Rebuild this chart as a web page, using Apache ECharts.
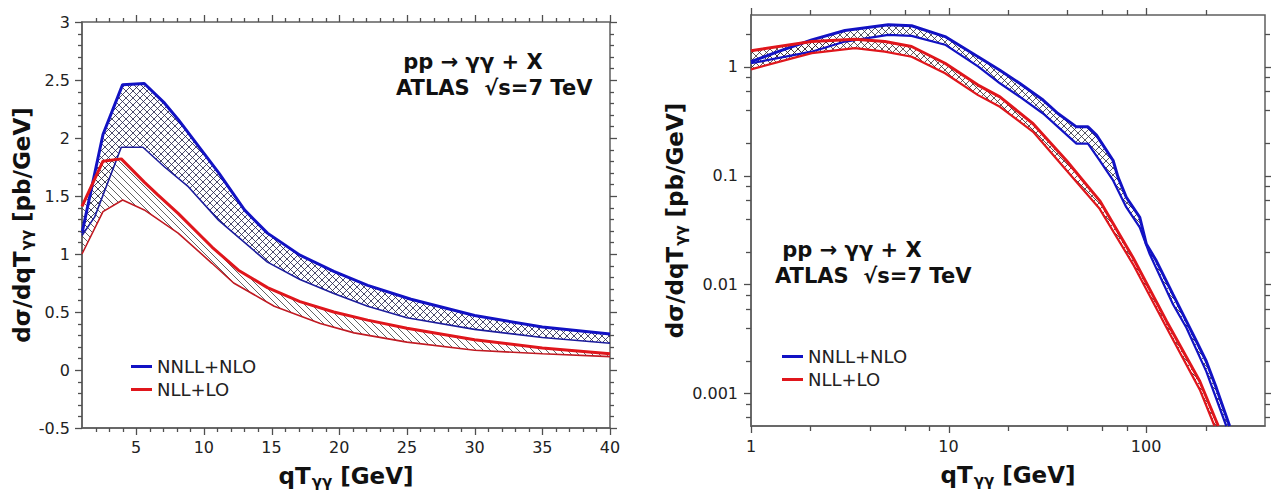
<!DOCTYPE html>
<html>
<head>
<meta charset="utf-8">
<script src="https://cdn.jsdelivr.net/npm/echarts@6/dist/echarts.min.js"></script>
<style>
html,body{margin:0;padding:0;background:#fff;}
#chart{width:1271px;height:496px;}
</style>
</head>
<body>
<div id="chart"></div>
<script>
// ---------- Left panel (linear) ----------
const linNnloUpX = [1, 2.55, 4, 5.6, 7.1, 8.1, 11.1, 13, 14.7, 17.1, 19.6, 22.1, 25.3, 30, 35, 40];
const linNnloUpY = [1.18, 2.03, 2.46, 2.47, 2.30, 2.16, 1.70, 1.38, 1.18, 0.99, 0.85, 0.73, 0.61, 0.47, 0.37, 0.31];
const linNnloLoX = [1, 1.94, 3.9, 5.5, 7.1, 8.85, 11.1, 13, 14.7, 17.1, 19.6, 22.1, 25, 30, 35, 40];
const linNnloLoY = [1.16, 1.32, 1.92, 1.92, 1.75, 1.58, 1.29, 1.10, 0.93, 0.78, 0.66, 0.55, 0.45, 0.35, 0.28, 0.23];
const linNllUpX = [1, 2.55, 3.9, 5.6, 6.6, 8.1, 10.6, 12.55, 14.7, 17.1, 19.6, 22.1, 25, 30, 35, 40];
const linNllUpY = [1.41, 1.80, 1.82, 1.62, 1.51, 1.35, 1.06, 0.86, 0.71, 0.59, 0.50, 0.43, 0.36, 0.26, 0.19, 0.14];
const linNllLoX = [1, 2.55, 4, 5.6, 8.1, 10.6, 12.2, 15.2, 18.6, 21.1, 25, 30, 35, 40];
const linNllLoY = [1.0, 1.365, 1.465, 1.38, 1.18, 0.92, 0.75, 0.55, 0.40, 0.32, 0.24, 0.17, 0.14, 0.115];
const linXMajor = [5, 10, 15, 20, 25, 30, 35, 40];
const linXMinor = [2, 3, 4, 6, 7, 8, 9, 11, 12, 13, 14, 16, 17, 18, 19, 21, 22, 23, 24, 26, 27, 28, 29, 31, 32, 33, 34, 36, 37, 38, 39];
const linYMajor = [-0.5, 0, 0.5, 1, 1.5, 2, 2.5, 3];
const linYMinor = [-0.4, -0.3, -0.2, -0.1, 0.1, 0.2, 0.3, 0.4, 0.6, 0.7, 0.8, 0.9, 1.1, 1.2, 1.3, 1.4, 1.6, 1.7, 1.8, 1.9, 2.1, 2.2, 2.3, 2.4, 2.6, 2.7, 2.8, 2.9];

// ---------- Right panel (log-log) ----------
const logNnloUpX = [1, 1.37, 2.03, 2.99, 4.95, 6.5, 9.6, 14.1, 18.2, 22.9, 30.1, 35.8, 44.4, 50.8, 56.1, 68.1, 72.1, 79.4, 92.9, 100.3, 112.7, 136.8, 160, 179.6, 201.7, 226.8, 264.8];
const logNnloUpY = [1.12, 1.38, 1.77, 2.16, 2.44, 2.39, 1.90, 1.24, 0.93, 0.707, 0.496, 0.373, 0.281, 0.281, 0.236, 0.138, 0.097, 0.0634, 0.0415, 0.0235, 0.0165, 0.0081, 0.00461, 0.00302, 0.00197, 0.00112, 0.0005];
const logNnloLoX = [1, 2.03, 2.99, 4.95, 6.5, 9.6, 14.1, 18.2, 22.9, 30.1, 35.8, 44.4, 50.8, 58.2, 68.1, 79.4, 92.9, 104.3, 136.8, 160, 201.7, 254.7];
const logNnloLoY = [1.08, 1.38, 1.71, 1.97, 1.93, 1.60, 1.01, 0.707, 0.532, 0.373, 0.281, 0.197, 0.197, 0.138, 0.0905, 0.0513, 0.0335, 0.019, 0.00658, 0.004, 0.00159, 0.0005];
const logNllUpX = [1, 2.03, 3.36, 4.76, 6.5, 9.6, 14.1, 18.2, 26.8, 39.5, 58.2, 85.8, 127, 187, 232];
const logNllUpY = [1.41, 1.71, 1.80, 1.71, 1.54, 1.08, 0.68, 0.53, 0.30, 0.138, 0.059, 0.0177, 0.0046, 0.00129, 0.0005];
const logNllLoX = [1, 2.03, 3.36, 4.76, 6.5, 9.6, 14.1, 18.2, 26.8, 39.5, 58.2, 85.8, 127, 187, 222];
const logNllLoY = [0.95, 1.34, 1.49, 1.38, 1.24, 0.875, 0.55, 0.43, 0.253, 0.112, 0.0496, 0.0154, 0.004, 0.00108, 0.0005];
const logXMajor = [1, 10, 100];
const logXMinor = [2, 4, 6, 8, 20, 40, 60, 80, 200];
const logYMajor = [0.001, 0.01, 0.1, 1];
const logYMinor = [0.0006, 0.0008, 0.002, 0.004, 0.006, 0.008, 0.02, 0.04, 0.06, 0.08, 0.2, 0.4, 0.6, 0.8, 2];

const seriesNames = ['NNLL+NLO', 'NLL+LO'];
const yTitle = '{a|dσ/dqT}{b|γγ}{a| [pb/GeV]}';
const xTitle = '{a|qT}{b|γγ}{a| [GeV]}';
const annotation = ' pp → γγ + X\nATLAS  √s=7 TeV';

// ---------- styling ----------
const FONT = 'DejaVu Sans';
const BLUE = '#1212c4';
const BLUE_THIN = '#1c1c9c';
const RED = '#e0161c';
const RED_THIN = '#c01a22';
const AX = '#5f5f5f';
const TICK = '#4f4f4f';

const pairs = (xs, ys) => xs.map((x, i) => [x, ys[i]]);

const titleRich = {
  a: {fontSize: 23, fontWeight: 'bold', fontFamily: FONT, color: '#111'},
  b: {fontSize: 15, fontWeight: 'bold', fontFamily: FONT, color: '#111', padding: [11, 0, 0, 1]}
};

function hatchBand(ux, uy, lx, ly, opt) {
  return function (params, api) {
    const pts = [];
    for (let i = 0; i < ux.length; i++) pts.push(api.coord([ux[i], uy[i]]));
    for (let i = lx.length - 1; i >= 0; i--) pts.push(api.coord([lx[i], ly[i]]));
    let x0 = Infinity, x1 = -Infinity, y0 = Infinity, y1 = -Infinity;
    pts.forEach(p => { x0 = Math.min(x0, p[0]); x1 = Math.max(x1, p[0]); y0 = Math.min(y0, p[1]); y1 = Math.max(y1, p[1]); });
    const sp = opt.spacing;
    const st = {stroke: opt.color, lineWidth: opt.lw};
    const children = [];
    let cStart = Math.floor((y0 - x1) / sp) * sp;
    for (let c = cStart; c <= y1 - x0 + sp; c += sp) {
      children.push({type: 'line', shape: {x1: x0, y1: x0 + c, x2: x1, y2: x1 + c}, style: st});
    }
    if (opt.cross) {
      cStart = Math.floor((y0 + x0) / sp) * sp;
      for (let c = cStart; c <= y1 + x1 + sp; c += sp) {
        children.push({type: 'line', shape: {x1: x0, y1: c - x0, x2: x1, y2: c - x1}, style: st});
      }
    }
    return {type: 'group', clipPath: {type: 'polygon', shape: {points: pts}}, children: children};
  };
}

function bandSeries(xi, yi, ux, uy, lx, ly, opt) {
  return {
    type: 'custom', xAxisIndex: xi, yAxisIndex: yi, clip: true, silent: true,
    data: [[ux[0], uy[0]]],
    renderItem: hatchBand(ux, uy, lx, ly, opt), z: 1
  };
}
function lineSeries(name, xi, yi, xs, ys, color, width) {
  return {
    name: name, type: 'line', xAxisIndex: xi, yAxisIndex: yi, color: color,
    showSymbol: false, symbol: 'none', clip: true, z: 3,
    lineStyle: {color: color, width: width},
    data: pairs(xs, ys)
  };
}
// outward tick marks on one side of a grid, placed through the axis scales
function tickSeries(xi, yi, side, values, len, ref) {
  const horiz = side === 'b' || side === 't';
  return {
    type: 'custom', xAxisIndex: xi, yAxisIndex: yi, clip: false, silent: true, zlevel: 1, z: 50,
    data: values.map(v => horiz ? [v, ref] : [ref, v]),
    renderItem: function (params, api) {
      const cs = params.coordSys;
      const p = api.coord([api.value(0), api.value(1)]);
      const st = {stroke: TICK, lineWidth: 1.3};
      if (horiz) {
        const x = Math.round(p[0]) + 0.5;
        const y = side === 'b' ? cs.y + cs.height : cs.y;
        const d = side === 'b' ? len : -len;
        return {type: 'line', shape: {x1: x, y1: y, x2: x, y2: y + d}, style: st};
      }
      const y = Math.round(p[1]) + 0.5;
      const x = side === 'l' ? cs.x : cs.x + cs.width;
      const d = side === 'l' ? -len : len;
      return {type: 'line', shape: {x1: x, y1: y, x2: x + d, y2: y}, style: st};
    }
  };
}
function allTicks(xi, yi, xMaj, xMin, yMaj, yMin, majLen, minLen, xRef, yRef) {
  const out = [];
  ['b', 't'].forEach(s => {
    out.push(tickSeries(xi, yi, s, xMaj, majLen, xRef));
    out.push(tickSeries(xi, yi, s, xMin, minLen, xRef));
  });
  ['l', 'r'].forEach(s => {
    out.push(tickSeries(xi, yi, s, yMaj, majLen, yRef));
    out.push(tickSeries(xi, yi, s, yMin, minLen, yRef));
  });
  return out;
}

const labelStyle = {fontSize: 16, fontFamily: FONT, color: '#222'};
const axisLine = {show: true, onZero: false, lineStyle: {color: AX, width: 1.5}};
const fmt = v => String(+(+v).toPrecision(3));

const xAxes = [
  {
    type: 'value', gridIndex: 0, min: 1, max: 40, position: 'bottom',
    axisLine: axisLine, axisTick: {show: false}, splitLine: {show: false},
    axisLabel: Object.assign({show: true, margin: 11, customValues: linXMajor}, labelStyle),
    name: xTitle, nameLocation: 'middle', nameGap: 35, nameTextStyle: {rich: titleRich}
  },
  {
    type: 'log', logBase: 10, gridIndex: 1, min: 1, max: 400, position: 'bottom',
    axisLine: axisLine, axisTick: {show: false}, splitLine: {show: false}, minorTick: {show: false},
    axisLabel: Object.assign({show: true, margin: 12, customValues: logXMajor, formatter: fmt}, labelStyle),
    name: xTitle, nameLocation: 'middle', nameGap: 36, nameTextStyle: {rich: titleRich}
  }
];
const yAxes = [
  {
    type: 'value', gridIndex: 0, min: -0.5, max: 3, interval: 0.5, position: 'left',
    axisLine: axisLine, axisTick: {show: false}, splitLine: {show: false},
    axisLabel: Object.assign({show: true, margin: 12}, labelStyle),
    name: yTitle, nameLocation: 'middle', nameGap: 45, nameTextStyle: {rich: titleRich}
  },
  {
    type: 'log', logBase: 10, gridIndex: 1, min: 0.0005, max: 3, position: 'left',
    axisLine: axisLine, axisTick: {show: false}, splitLine: {show: false}, minorTick: {show: false},
    axisLabel: Object.assign({show: true, margin: 13, customValues: logYMajor, formatter: fmt}, labelStyle),
    name: yTitle, nameLocation: 'middle', nameGap: 58, nameTextStyle: {rich: titleRich}
  }
];

const series = [
  bandSeries(0, 0, linNnloUpX, linNnloUpY, linNnloLoX, linNnloLoY, {spacing: 7, color: '#1e1e46', lw: 0.8, cross: true}),
  bandSeries(0, 0, linNllUpX, linNllUpY, linNllLoX, linNllLoY, {spacing: 7, color: '#3a3a3a', lw: 0.8, cross: false}),
  lineSeries('NNLL+NLO', 0, 0, linNnloUpX, linNnloUpY, BLUE, 3),
  lineSeries('NNLL+NLO (band)', 0, 0, linNnloLoX, linNnloLoY, BLUE_THIN, 1.6),
  lineSeries('NLL+LO', 0, 0, linNllUpX, linNllUpY, RED, 3),
  lineSeries('NLL+LO (band)', 0, 0, linNllLoX, linNllLoY, RED_THIN, 1.6),
  bandSeries(1, 1, logNnloUpX, logNnloUpY, logNnloLoX, logNnloLoY, {spacing: 7, color: '#2a2a3a', lw: 0.8, cross: true}),
  bandSeries(1, 1, logNllUpX, logNllUpY, logNllLoX, logNllLoY, {spacing: 7, color: '#3a2a2a', lw: 0.8, cross: true}),
  lineSeries('NNLL+NLO', 1, 1, logNnloUpX, logNnloUpY, BLUE, 3),
  lineSeries('NNLL+NLO (band)', 1, 1, logNnloLoX, logNnloLoY, BLUE, 2.2),
  lineSeries('NLL+LO', 1, 1, logNllUpX, logNllUpY, RED, 3),
  lineSeries('NLL+LO (band)', 1, 1, logNllLoX, logNllLoY, RED, 2.2)
].concat(
  allTicks(0, 0, linXMajor, linXMinor, linYMajor, linYMinor, 7, 4, 0, 1),
  allTicks(1, 1, logXMajor, logXMinor, logYMajor, logYMinor, 7, 5, 1, 1)
);

function legendAt(left, top) {
  return {
    left: left, top: top, orient: 'vertical', data: seriesNames, selectedMode: false,
    icon: 'rect', itemWidth: 21, itemHeight: 3, itemGap: 4,
    textStyle: {fontSize: 18, fontFamily: FONT, color: '#222', lineHeight: 19}
  };
}
function label(x, y, text) {
  return {type: 'text', x: x, y: y, style: {text: text, font: 'bold 21px "DejaVu Sans"', lineHeight: 26, fill: '#111', verticalAlign: 'top', align: 'left'}};
}

const chart = echarts.init(document.getElementById('chart'), null, {renderer: 'svg'});
chart.setOption({
  animation: false,
  backgroundColor: '#fff',
  grid: [
    {left: 82, top: 22, width: 528, height: 406, show: true, borderColor: AX, borderWidth: 1.5, backgroundColor: 'transparent'},
    {left: 751, top: 15, width: 514, height: 411, show: true, borderColor: AX, borderWidth: 1.5, backgroundColor: 'transparent'}
  ],
  xAxis: xAxes,
  yAxis: yAxes,
  legend: [legendAt(126, 352), legendAt(777, 342)],
  graphic: [
    label(396, 49, annotation),
    label(775, 237, annotation)
  ],
  series: series
});
</script>
</body>
</html>
